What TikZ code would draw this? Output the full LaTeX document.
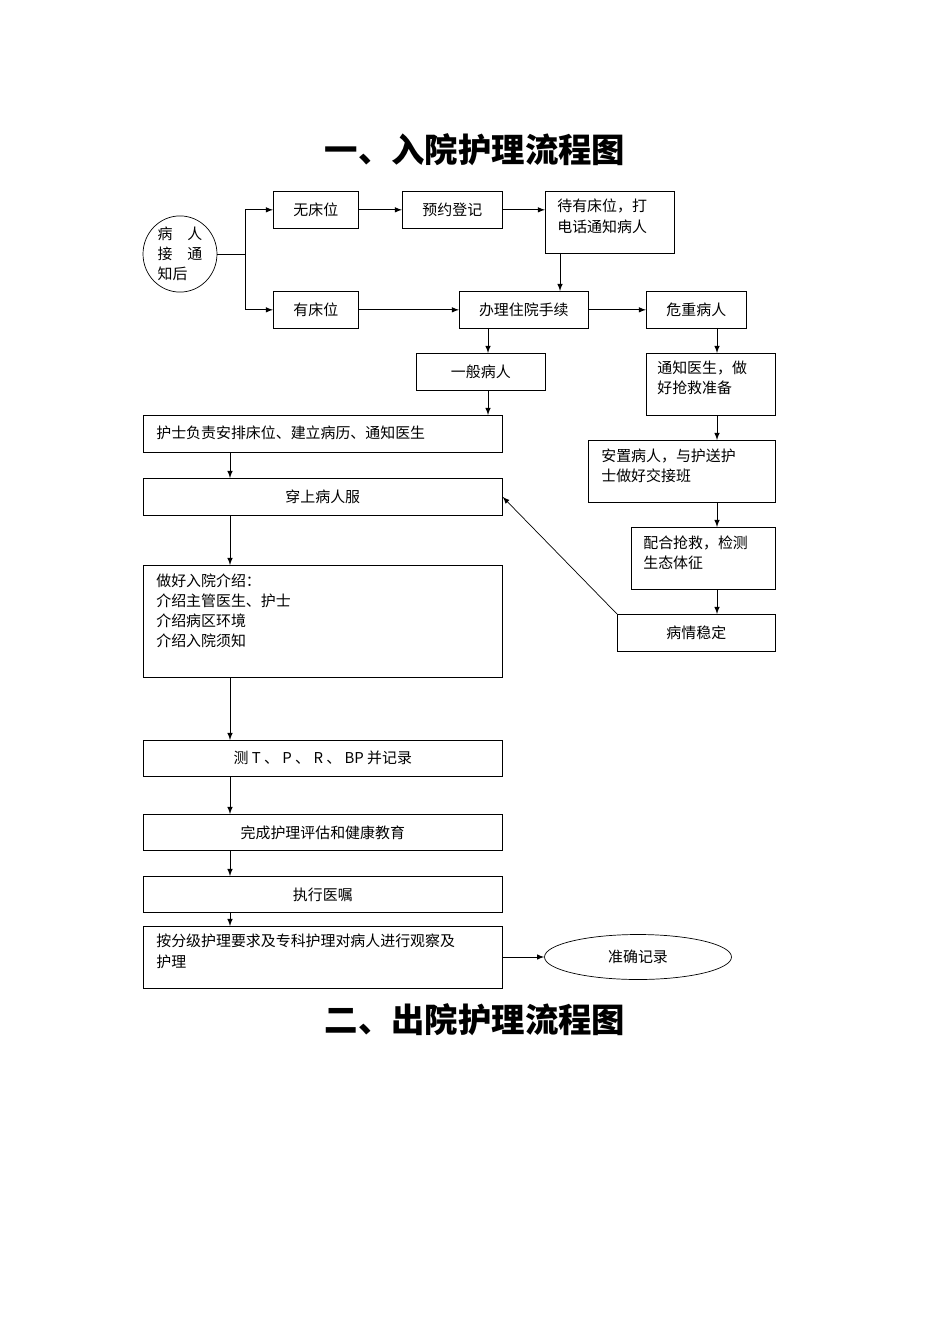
\documentclass[tikz,border=0pt]{standalone}
\usepackage{fontspec}
\setmainfont{Noto Sans CJK SC}
\usetikzlibrary{shapes.geometric}
\tikzset{
  box/.style={rectangle, draw, black, anchor=north west, inner sep=0pt},
  txt/.style={anchor=north west, align=left, inner sep=0pt, font=\fontsize{8.5}{11.4}\selectfont},
  ctr/.style={font=\fontsize{8.5}{11.4}\selectfont},
  arr/.style={->, >=latex},
  ttl/.style={font=\fontsize{19}{22}\selectfont\bfseries}
}
\begin{document}
\begin{tikzpicture}[x=0.02cm, y=-0.02cm]
        \useasboundingbox (0,0) rectangle (950,1344);
        \node(t1)[ttl] at (475,150){一、入院护理流程图};
        \node(t2)[ttl] at (475,1020){二、出院护理流程图};

        \node(start)[ellipse, draw, minimum width=1.48cm, minimum height=1.48cm, inner sep=0pt, ctr, align=left] at (180,254){病\quad 人\\接\quad 通\\知后};
        \coordinate(fork) at (245,254);

        \node(nobed)[box, minimum width=1.7cm, minimum height=0.74cm, ctr] at (273,191){无床位};
        \node(book)[box, minimum width=2cm, minimum height=0.74cm, ctr] at (402,191){预约登记};
        \draw (545,191) node(wait)[box, minimum width=2.58cm, minimum height=1.24cm]{};
        \node(waitt)[txt] at (557,199){待有床位，打\\电话通知病人};
        \node(bed)[box, minimum width=1.7cm, minimum height=0.74cm, ctr] at (273,291){有床位};
        \node(admit)[box, minimum width=2.58cm, minimum height=0.74cm, ctr] at (459,291){办理住院手续};
        \node(crit)[box, minimum width=2cm, minimum height=0.74cm, ctr] at (646,291){危重病人};
        \node(normal)[box, minimum width=2.58cm, minimum height=0.74cm, ctr] at (416,353){一般病人};
        \draw (646,353) node(doc)[box, minimum width=2.58cm, minimum height=1.24cm]{};
        \node(doct)[txt] at (657,361){通知医生，做\\好抢救准备};
        \draw (143,415) node(nurse)[box, minimum width=7.18cm, minimum height=0.74cm]{};
        \node(nurset)[txt] at (156,425){护士负责安排床位、建立病历、通知医生};
        \draw (588,440) node(place)[box, minimum width=3.74cm, minimum height=1.24cm]{};
        \node(placet)[txt] at (601,449){安置病人，与护送护\\士做好交接班};
        \node(gown)[box, minimum width=7.18cm, minimum height=0.74cm, ctr] at (143,478){穿上病人服};
        \draw (631,527) node(aid)[box, minimum width=2.88cm, minimum height=1.24cm]{};
        \node(aidt)[txt] at (643,535){配合抢救，检测\\生态体征};
        \draw (143,565) node(intro)[box, minimum width=7.18cm, minimum height=2.24cm]{};
        \node(introt)[txt] at (156,573){做好入院介绍：\\介绍主管医生、护士\\介绍病区环境\\介绍入院须知};
        \node(stable)[box, minimum width=3.16cm, minimum height=0.74cm, ctr] at (617,614){病情稳定};
        \node(vital)[box, minimum width=7.18cm, minimum height=0.72cm, ctr] at (143,740){测 T 、 P 、 R 、 BP 并记录};
        \node(assess)[box, minimum width=7.18cm, minimum height=0.72cm, ctr] at (143,814){完成护理评估和健康教育};
        \node(order)[box, minimum width=7.18cm, minimum height=0.72cm, ctr] at (143,876){执行医嘱};
        \draw (143,926) node(care)[box, minimum width=7.18cm, minimum height=1.24cm]{};
        \node(caret)[txt] at (156,934){按分级护理要求及专科护理对病人进行观察及\\护理};
        \node(record)[ellipse, draw, minimum width=3.74cm, minimum height=0.9cm, ctr] at (638,957){准确记录};

        % connectors
        \draw (start.east) -- (fork);
        \draw[arr] (fork) |- (nobed.west);
        \draw[arr] (fork) |- (bed.west);
        \draw[arr] (nobed) -- (book);
        \draw[arr] (book) -- (book -| wait.west);
        \draw[arr] (560,253) -- (560,291);
        \draw[arr] (bed.east) -- (bed.east -| admit.west);
        \draw[arr] (admit) -- (crit);
        \draw[arr] (717,328) -- (717,353);
        \draw[arr] (488,328) -- (488,353);
        \draw[arr] (488,390) -- (488,415);
        \draw[arr] (717,415) -- (717,440);
        \draw[arr] (717,502) -- (717,527);
        \draw[arr] (717,589) -- (717,614);
        \draw[arr] (stable.north west) -- (gown.east);
        \draw[arr] (230,452) -- (230,478);
        \draw[arr] (230,515) -- (230,565);
        \draw[arr] (230,677) -- (230,740);
        \draw[arr] (230,776) -- (230,814);
        \draw[arr] (230,850) -- (230,876);
        \draw[arr] (230,912) -- (230,926);
        \draw[arr] (502,957) -- (record.west);
    \end{tikzpicture}
\end{document}
